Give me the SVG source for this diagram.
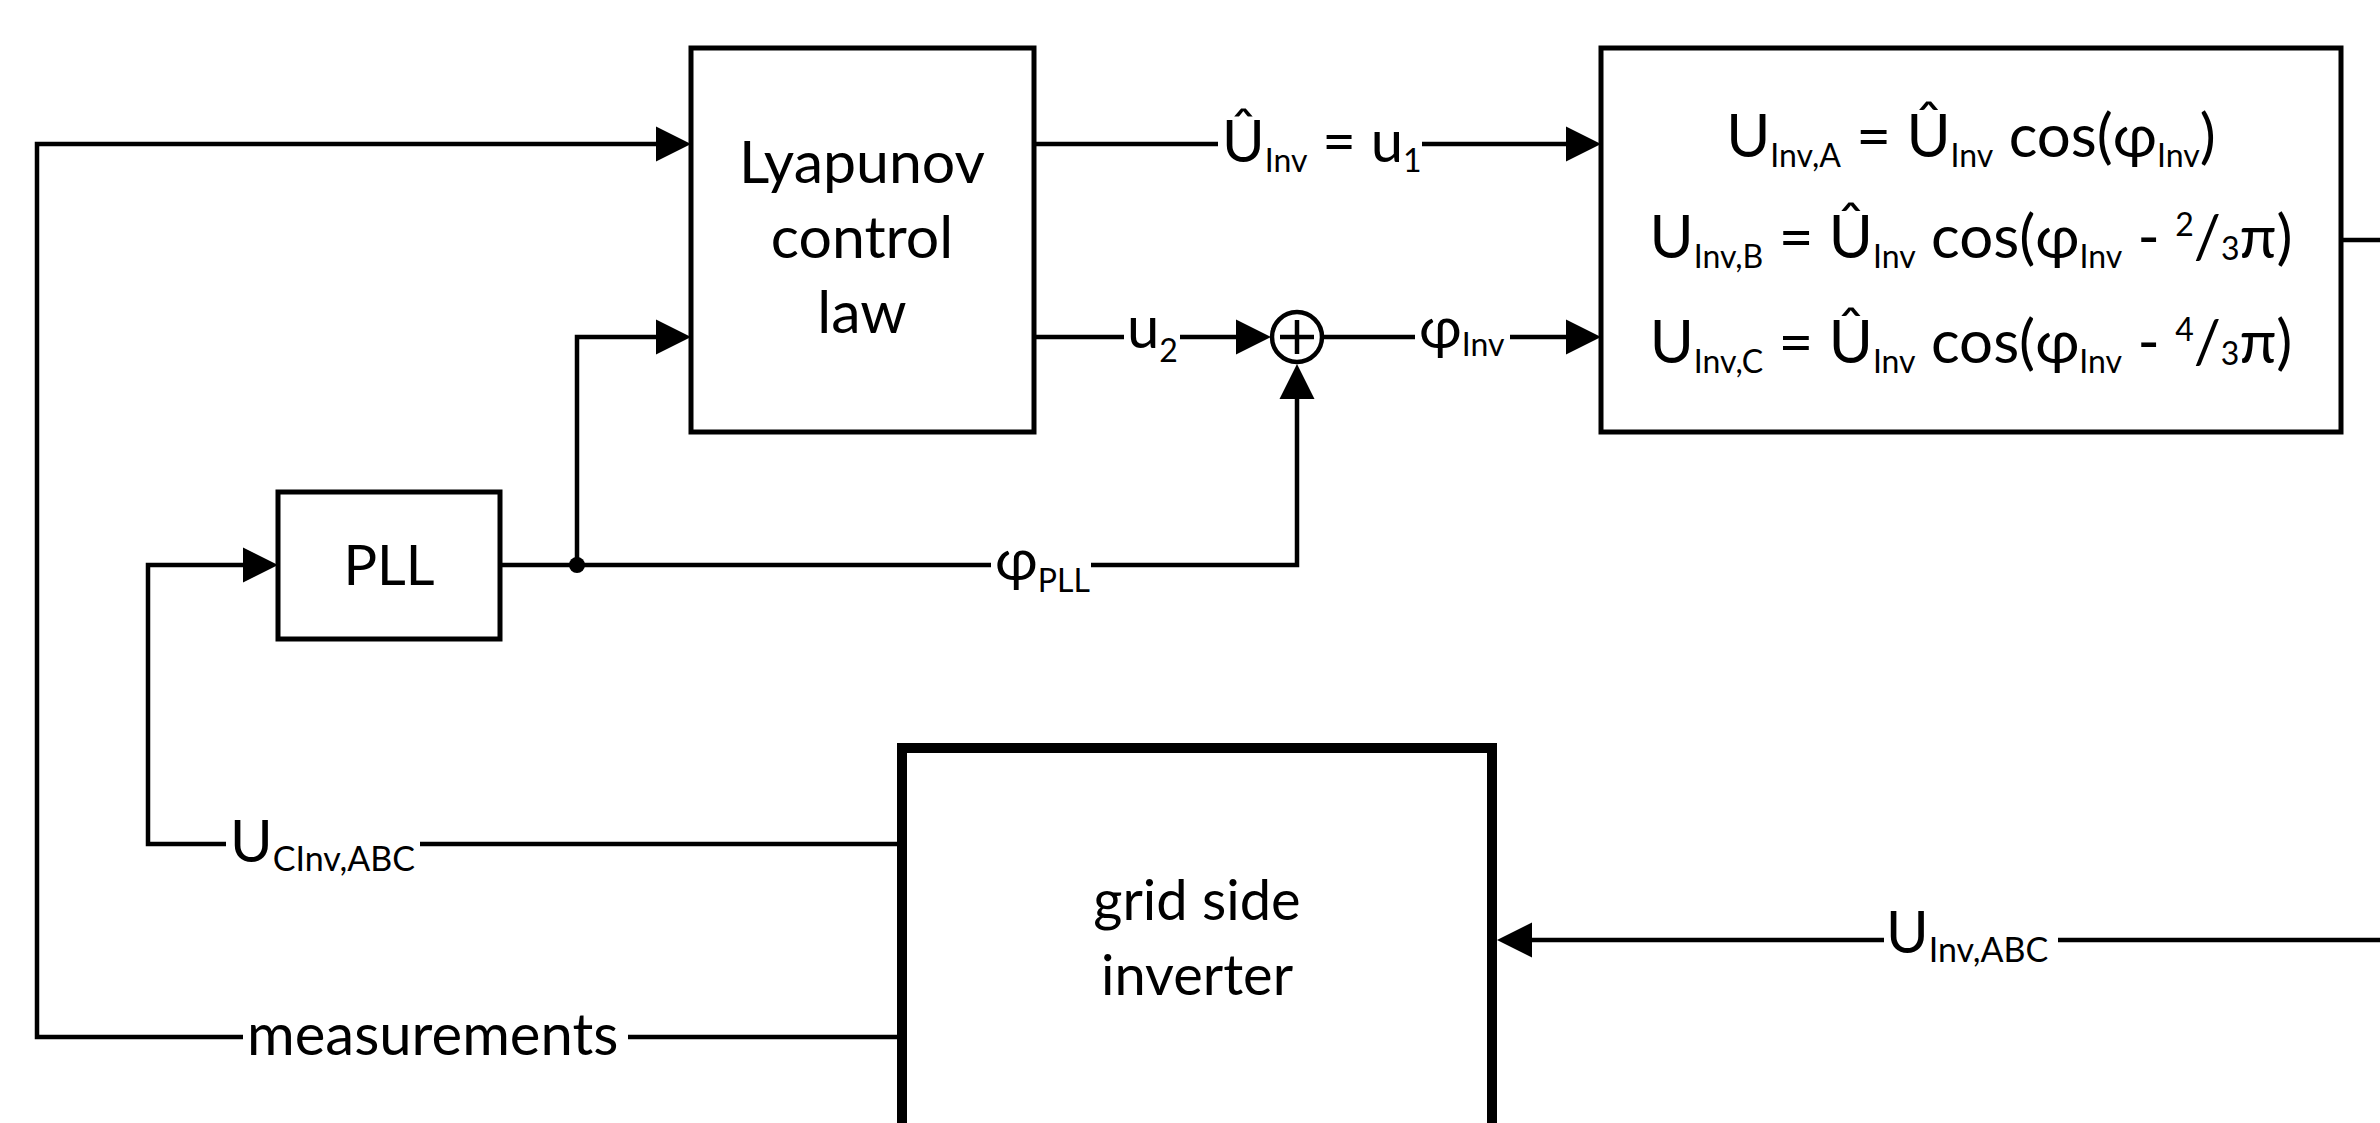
<svg xmlns="http://www.w3.org/2000/svg" xmlns:xlink="http://www.w3.org/1999/xlink" width="2380" height="1123" viewBox="0 0 2380 1123">
<style>
.ln{fill:none;stroke:#000;stroke-width:4.5;stroke-linejoin:miter;stroke-linecap:butt}
.bx{fill:#fff;stroke:#000;stroke-width:5}
.thick{stroke-width:10}
text{font-family:Lato,'Liberation Sans',sans-serif;fill:#000}
.t{font-size:59px}
.p{font-size:56px}
.g{font-size:56px}
.l{font-size:58px}
.e{font-size:60px}
.s{font-size:32px}
.ls{font-size:34px}
.m{text-anchor:middle}
</style>
<defs>
<path id="ah" d="M0,0 L-35,-17.5 L-35,17.5 Z" fill="#000"/>
</defs>
<rect width="2380" height="1123" fill="#fff"/>

<g id="connectors">
  <!-- measurements feedback -->
  <path class="ln" d="M902,1037 H628 M243,1037 H37 V144 H660"/>
  <use xlink:href="#ah" transform="translate(691,144)"/>
  <!-- UCInv to PLL -->
  <path class="ln" d="M902,844 H420 M226,844 H148 V565 H250"/>
  <use xlink:href="#ah" transform="translate(278,565)"/>
  <!-- PLL out -->
  <path class="ln" d="M500,565 H991 M1091,565 H1297 V392"/>
  <use xlink:href="#ah" transform="translate(1297,364) rotate(-90)"/>
  <circle cx="577" cy="565" r="8" fill="#000"/>
  <path class="ln" d="M577,565 V337 H660"/>
  <use xlink:href="#ah" transform="translate(691,337)"/>
  <!-- u1 -->
  <path class="ln" d="M1034,144 H1218 M1422,144 H1572"/>
  <use xlink:href="#ah" transform="translate(1601,144)"/>
  <!-- u2 -->
  <path class="ln" d="M1034,337 H1124 M1180,337 H1242"/>
  <use xlink:href="#ah" transform="translate(1271,337)"/>
  <!-- phi inv -->
  <path class="ln" d="M1322,337 H1415 M1510,337 H1572"/>
  <use xlink:href="#ah" transform="translate(1601,337)"/>
  <!-- eq out -->
  <path class="ln" d="M2341,240 H2380"/>
  <!-- UInv,ABC -->
  <path class="ln" d="M2380,940 H2058 M1884,940 H1525"/>
  <use xlink:href="#ah" transform="translate(1497,940) rotate(180)"/>
</g>

<g id="labels">
  <text class="l" x="1222" y="162">Û<tspan class="s" dy="10">Inv</tspan><tspan dy="-10"> = u</tspan><tspan class="s" dy="10">1</tspan></text>
  <text class="l" x="1127" y="348">u<tspan class="s" dy="14">2</tspan></text>
  <text class="l" x="1419" y="348">φ<tspan class="s" dy="8">Inv</tspan></text>
  <text class="l" x="995" y="580">φ<tspan class="s" dy="12">PLL</tspan></text>
  <text class="l" x="230" y="862">U<tspan class="ls" dy="9">CInv,ABC</tspan></text>
  <text class="l" x="247" y="1055">measurements</text>
  <text class="l" x="1886" y="953">U<tspan class="ls" dy="9">Inv,ABC</tspan></text>
</g>

<g id="node-lyapunov">
  <rect class="bx" x="691" y="48" width="343" height="384"/>
  <text class="t m" x="862" y="183">Lyapunov</text>
  <text class="t m" x="862" y="258">control</text>
  <text class="t m" x="862" y="333">law</text>
</g>

<g id="node-sum">
  <circle cx="1297" cy="337" r="25" fill="#fff" stroke="#000" stroke-width="4.5"/>
  <path class="ln" d="M1280,337 H1314 M1297,320 V354"/>
</g>

<g id="node-equations">
  <rect class="bx" x="1601" y="48" width="740" height="384"/>
  <text class="e m" x="1971" y="157">U<tspan class="s" dy="10">Inv,A</tspan><tspan dy="-10"> = Û</tspan><tspan class="s" dy="10">Inv</tspan><tspan dy="-10"> cos(φ</tspan><tspan class="s" dy="10">Inv</tspan><tspan dy="-10">)</tspan></text>
  <text class="e m" x="1971" y="258">U<tspan class="s" dy="10">Inv,B</tspan><tspan dy="-10"> = Û</tspan><tspan class="s" dy="10">Inv</tspan><tspan dy="-10"> cos(φ</tspan><tspan class="s" dy="10">Inv</tspan><tspan dy="-10"> - </tspan><tspan class="s" dy="-22">2</tspan><tspan dy="22">/</tspan><tspan class="s" dy="2">3</tspan><tspan dy="-2">π)</tspan></text>
  <text class="e m" x="1971" y="363">U<tspan class="s" dy="10">Inv,C</tspan><tspan dy="-10"> = Û</tspan><tspan class="s" dy="10">Inv</tspan><tspan dy="-10"> cos(φ</tspan><tspan class="s" dy="10">Inv</tspan><tspan dy="-10"> - </tspan><tspan class="s" dy="-22">4</tspan><tspan dy="22">/</tspan><tspan class="s" dy="2">3</tspan><tspan dy="-2">π)</tspan></text>
</g>

<g id="node-pll">
  <rect class="bx" x="278" y="492" width="222" height="147"/>
  <text class="p m" x="389" y="585">PLL</text>
</g>

<g id="node-grid-inverter">
  <rect class="bx thick" x="902" y="748" width="590" height="420"/>
  <text class="g m" x="1197" y="920">grid side</text>
  <text class="g m" x="1197" y="995">inverter</text>
</g>
</svg>
